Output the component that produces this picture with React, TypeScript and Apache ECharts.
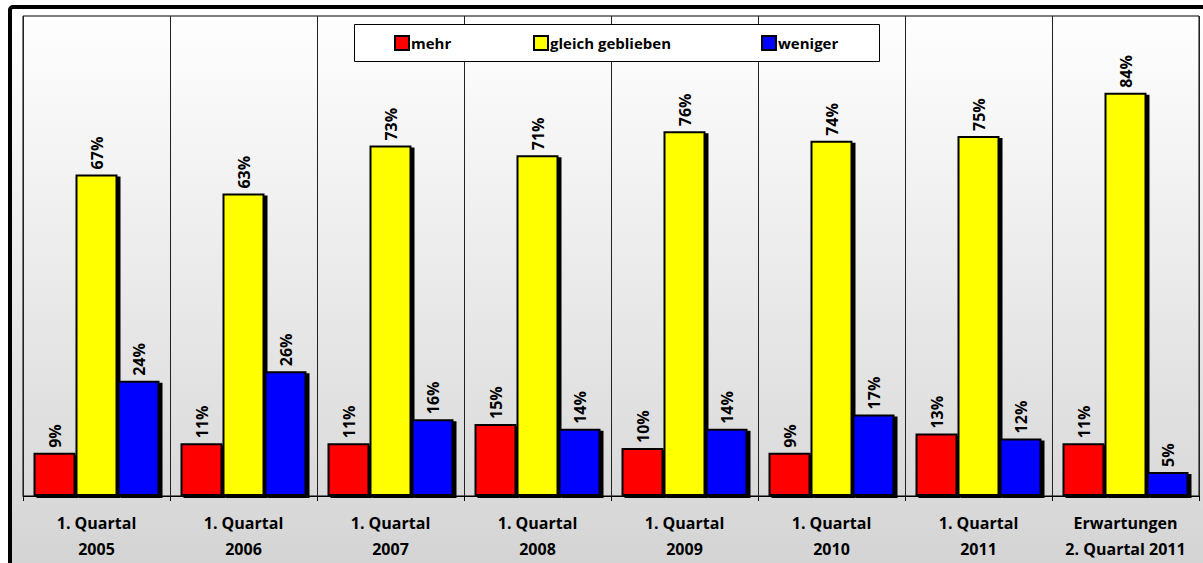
import React, { useEffect, useRef } from "react";
import * as echarts from "echarts";

const categories = [
  "1. Quartal\n2005",
  "1. Quartal\n2006",
  "1. Quartal\n2007",
  "1. Quartal\n2008",
  "1. Quartal\n2009",
  "1. Quartal\n2010",
  "1. Quartal\n2011",
  "Erwartungen\n2. Quartal 2011",
];
const mehr = [9, 11, 11, 15, 10, 9, 13, 11];
const gleich = [67, 63, 73, 71, 76, 74, 75, 84];
const weniger = [24, 26, 16, 14, 14, 17, 12, 5];
const legendNames = ["mehr", "gleich geblieben", "weniger"];

const FONT = "'Open Sans', 'Noto Sans', sans-serif";

export default function App() {
  const ref = useRef<HTMLDivElement>(null);
  useEffect(() => {
    document.body.style.margin = "0";
    const chart = echarts.init(ref.current!, null, { renderer: "svg" });
    const mk = (name: string, data: number[], color: string) => ({
      name,
      type: "bar",
      data,
      barWidth: 42,
      barGap: "0%",
      itemStyle: {
        color,
        borderColor: "#000",
        borderWidth: 2,
        shadowColor: "#000",
        shadowOffsetX: 3,
        shadowOffsetY: 2,
        shadowBlur: 0,
      },
      label: {
        show: true,
        position: "top",
        rotate: 90,
        align: "left",
        verticalAlign: "middle",
        distance: 5,
        formatter: "{c}%",
        color: "#000",
        fontFamily: FONT,
        fontWeight: "bold",
        fontSize: 16,
      },
    });
    const legendLeft = [394, 533, 761];
    const legends = legendNames.map((n, i) => ({
      data: [n],
      left: legendLeft[i],
      top: 35,
      padding: 0,
      itemWidth: 14,
      itemHeight: 14,
      icon: "rect",
      itemStyle: { borderColor: "#000", borderWidth: 2, shadowBlur: 0, shadowOffsetX: 0, shadowOffsetY: 0 },
      textStyle: { fontFamily: FONT, fontWeight: "bold", fontSize: 15, color: "#000", padding: [0, 0, 0, -3] },
    }));
    chart.setOption({
      animation: false,
      graphic: [
        {
          type: "rect",
          z: -10,
          silent: true,
          shape: { x: 10, y: 7, width: 1220, height: 600, r: 3 },
          style: {
            fill: new echarts.graphic.LinearGradient(0, 0, 0, 1, [
              { offset: 0, color: "#ffffff" },
              { offset: 0.85, color: "#d8d8d8" },
              { offset: 1, color: "#d0d0d0" },
            ]),
            stroke: "#000",
            lineWidth: 4,
          },
        },
        {
          type: "rect",
          z: 3,
          silent: true,
          shape: { x: 354.5, y: 24.5, width: 525, height: 37 },
          style: { fill: "#fff", stroke: "#000", lineWidth: 1 },
        },
      ],
      legend: legends,
      grid: {
        left: 23,
        right: 4,
        top: 16,
        bottom: 67,
        show: true,
        borderColor: "#000",
        borderWidth: 1,
        backgroundColor: "transparent",
      },
      xAxis: {
        type: "category",
        data: categories,
        axisLine: { lineStyle: { color: "#000", width: 1 } },
        axisTick: { show: true, length: 5, interval: 0, lineStyle: { color: "#000" } },
        splitLine: { show: true, interval: 0, lineStyle: { color: "#222", width: 1 } },
        axisLabel: {
          interval: 0,
          margin: 14,
          color: "#000",
          fontFamily: FONT,
          fontWeight: "bold",
          fontSize: 16,
          lineHeight: 26,
        },
      },
      yAxis: { type: "value", min: 0, max: 100, show: false, splitLine: { show: false } },
      series: [
        mk(legendNames[0], mehr, "#ff0000"),
        mk(legendNames[1], gleich, "#ffff00"),
        mk(legendNames[2], weniger, "#0000ff"),
      ],
    });
    return () => chart.dispose();
  }, []);
  return <div ref={ref} style={{ width: 1203, height: 563, position: "absolute", left: 0, top: 0 }} />;
}
